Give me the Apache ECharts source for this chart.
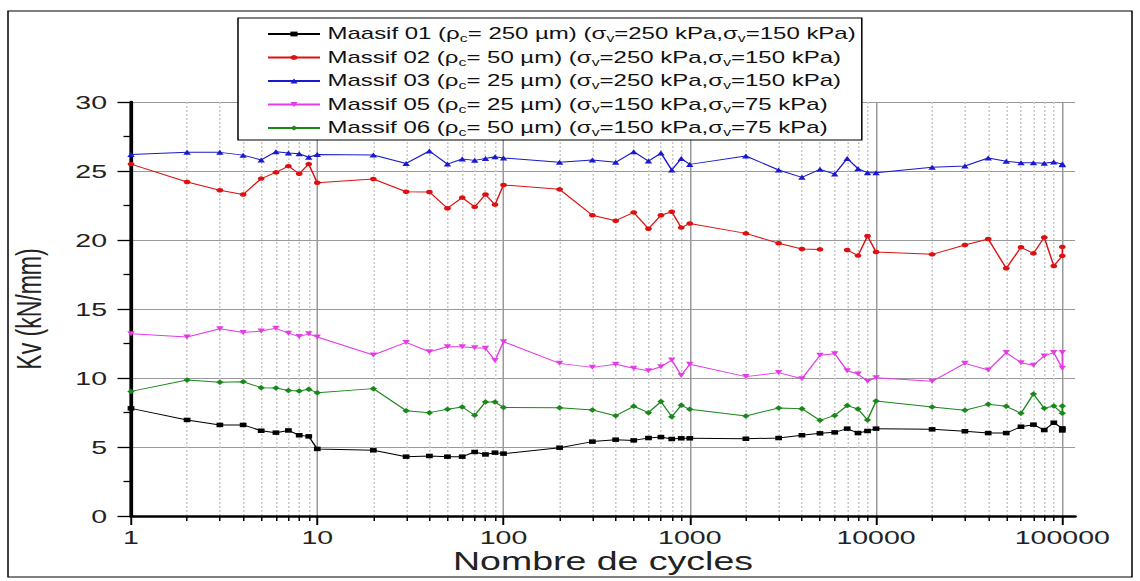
<!DOCTYPE html>
<html><head><meta charset="utf-8">
<script src="https://cdn.jsdelivr.net/npm/echarts@6/dist/echarts.min.js"></script>
<style>
html,body{margin:0;padding:0;background:#fff;overflow:hidden;}
#wrap{width:1140px;height:581px;overflow:hidden;position:relative;}
#chart{width:760px;height:581px;transform:scaleX(1.5);transform-origin:0 0;}
</style></head>
<body><div id="wrap"><div id="chart"></div></div>
<script>
// ---- data ----
const cycles = [1,2,3,4,5,6,7,8,9,10,
  20,30,40,50,60,70,80,90,100,
  200,300,400,500,600,700,800,900,1000,
  2000,3000,4000,5000,6000,7000,8000,9000,10000,
  20000,30000,40000,50000,60000,70000,80000,90000,100000,100000];

const massif01 = [7.8,6.96,6.6,6.6,6.18,6.04,6.2,5.85,5.77,4.86,
  4.76,4.3,4.35,4.3,4.3,4.64,4.46,4.59,4.52,
  4.95,5.39,5.53,5.48,5.65,5.72,5.58,5.63,5.63,
  5.6,5.65,5.85,5.99,6.06,6.33,6.01,6.16,6.33,
  6.28,6.14,6.01,6.01,6.47,6.62,6.23,6.76,6.35,6.2];

const massif02 = [25.5,24.2,23.6,23.3,24.45,24.9,25.35,24.8,25.5,24.15,
  24.42,23.5,23.48,22.3,23.07,22.4,23.3,22.56,23.99,
  23.67,21.79,21.4,22.0,20.82,21.79,22.05,20.9,21.2,
  20.48,19.76,19.35,19.32,null,19.28,18.87,20.29,19.13,
  18.96,19.64,20.07,17.95,19.47,19.03,20.19,18.12,18.85,19.5];

const massif03 = [26.2,26.35,26.35,26.15,25.8,26.4,26.3,26.25,26.0,26.2,
  26.16,25.55,26.45,25.5,25.87,25.77,25.9,26.04,25.94,
  25.63,25.8,25.63,26.4,25.72,26.3,25.07,25.9,25.48,
  26.09,25.07,24.54,25.12,24.78,25.9,25.17,24.88,24.88,
  25.27,25.36,25.94,25.7,25.6,25.6,25.56,25.65,25.5,25.45];

const massif05 = [13.2,12.97,13.57,13.3,13.4,13.6,13.25,13.0,13.2,12.97,
  11.67,12.58,11.9,12.27,12.27,12.2,12.15,11.26,12.63,
  11.06,10.77,10.99,10.7,10.53,10.82,11.3,10.19,10.99,
  10.1,10.39,9.95,11.64,11.76,10.53,10.29,9.76,10.02,
  9.76,11.06,10.58,11.84,11.11,10.92,11.6,11.84,10.7,11.84];

const massif06 = [9.03,9.85,9.7,9.73,9.3,9.27,9.1,9.06,9.18,8.94,
  9.23,7.63,7.49,7.73,7.9,7.3,8.26,8.26,7.87,
  7.85,7.68,7.27,7.95,7.49,8.29,7.2,8.02,7.73,
  7.25,7.83,7.78,6.93,7.29,8.0,7.75,6.96,8.33,
  7.9,7.66,8.09,7.95,7.44,8.84,7.8,7.97,7.44,7.97];

const seriesNames = [
  'Maasif 01 (ρc= 250 µm) (σv=250 kPa,σv=150 kPa)',
  'Massif 02 (ρc= 50 µm) (σv=250 kPa,σv=150 kPa)',
  'Massif 03 (ρc= 25 µm) (σv=250 kPa,σv=150 kPa)',
  'Massif 05 (ρc= 25 µm) (σv=150 kPa,σv=75 kPa)',
  'Massif 06 (ρc= 50 µm) (σv=150 kPa,σv=75 kPa)'
];
const legendRich = [
  'Maasif 01 (ρ{s|c}= 250 µm) (σ{s|v}=250 kPa,σ{s|v}=150 kPa)',
  'Massif 02 (ρ{s|c}= 50 µm) (σ{s|v}=250 kPa,σ{s|v}=150 kPa)',
  'Massif 03 (ρ{s|c}= 25 µm) (σ{s|v}=250 kPa,σ{s|v}=150 kPa)',
  'Massif 05 (ρ{s|c}= 25 µm) (σ{s|v}=150 kPa,σ{s|v}=75 kPa)',
  'Massif 06 (ρ{s|c}= 50 µm) (σ{s|v}=150 kPa,σ{s|v}=75 kPa)'
];

const xMajorTicks = [1,10,100,1000,10000,100000];
const xMinorTicks = [2,3,4,5,6,7,8,9,
  20,30,40,50,60,70,80,90,
  200,300,400,500,600,700,800,900,
  2000,3000,4000,5000,6000,7000,8000,9000,
  20000,30000,40000,50000,60000,70000,80000,90000];
const yMin = 0, yMax = 30, yStep = 5;
const xMin = 1, xMax = 117000;

// ---- chart ----
const S = 1.5; // horizontal stretch of the original picture
const FONT = '"Liberation Sans", Arial, sans-serif';
const colors = ['#000000','#dd1111','#1a1acc','#e53be5','#1b881b'];
const symbols = ['rect','circle','triangle','path://M0,0L10,0L5,9Z','diamond'];
const sizes = [[4.5,4.5],[4.5,4.5],[5,5],[5,5],[5,5.5]];
const values = [massif01, massif02, massif03, massif05, massif06];

const chart = echarts.init(document.getElementById('chart'), null, {renderer:'svg'});

const series = values.map((vals, k) => ({
  name: seriesNames[k],
  type: 'line',
  xAxisIndex: 0,
  yAxisIndex: 0,
  data: cycles.map((c, i) => [c, vals[i]]),
  symbol: symbols[k],
  symbolSize: sizes[k],
  showAllSymbol: true,
  connectNulls: false,
  lineStyle: {color: colors[k], width: 1},
  itemStyle: {color: colors[k]},
  emphasis: {disabled: true},
  z: 3 + k
}));

chart.setOption({
  animation: false,
  backgroundColor: '#fff',
  textStyle: {fontFamily: FONT},
  grid: {left: 131/S, right: 760 - 1075/S, top: 102, bottom: 65, outerBoundsMode: 'none'},
  graphic: [{
    type: 'rect', silent: true, z: 0,
    shape: {x: 8/S, y: 11, width: 1124/S, height: 566},
    style: {fill: 'none', stroke: '#000', lineWidth: 1}
  }],
  legend: {
    orient: 'vertical',
    left: 238/S, top: 18,
    padding: [6, 4, 2, 19],
    itemWidth: 52/S, itemHeight: 6, itemGap: 3.5,
    backgroundColor: '#fff',
    borderColor: '#000', borderWidth: 1,
    data: seriesNames,
    selectedMode: false,
    formatter: name => legendRich[seriesNames.indexOf(name)],
    textStyle: {
      fontFamily: FONT, fontSize: 16, lineHeight: 20, color: '#111',
      rich: {s: {fontFamily: FONT, fontSize: 10.5, lineHeight: 13, verticalAlign: 'bottom', color: '#111'}}
    }
  },
  xAxis: [{
    type: 'log', logBase: 10, min: xMin, max: xMax,
    name: 'Nombre de cycles', nameLocation: 'middle', nameGap: 32, nameMoveOverlap: false,
    nameTextStyle: {fontFamily: FONT, fontSize: 25, lineHeight: 27, color: '#222'},
    axisLine: {show: true, onZero: false, lineStyle: {color: '#000', width: 2.5}},
    axisTick: {show: true, customValues: xMajorTicks, length: 9, lineStyle: {color: '#000', width: 1.3}},
    minorTick: {show: false},
    axisLabel: {show: true, customValues: xMajorTicks, margin: 12, fontFamily: FONT, fontSize: 19, lineHeight: 19, color: '#222',
      formatter: v => String(Math.round(v))},
    splitLine: {show: true, lineStyle: {color: '#999', width: 1, type: 'solid'}}
  }, {
    type: 'log', logBase: 10, min: xMin, max: xMax, position: 'bottom',
    axisLine: {show: false},
    axisTick: {show: true, customValues: xMinorTicks, length: 5, lineStyle: {color: '#000', width: 1}},
    axisLabel: {show: false},
    splitLine: {show: true, lineStyle: {color: '#c8c8c8', width: 1, type: [2, 2]}}
  }],
  yAxis: [{
    type: 'value', min: yMin, max: yMax, interval: yStep,
    name: 'Kv (kN/mm)', nameLocation: 'middle', nameGap: 57, nameMoveOverlap: false,
    nameTextStyle: {fontFamily: FONT, fontSize: 23, color: '#222'},
    axisLine: {show: true, lineStyle: {color: '#000', width: 2.5}},
    axisTick: {show: true, length: 9, lineStyle: {color: '#000', width: 1.3}},
    minorTick: {show: true, splitNumber: 2, length: 5, lineStyle: {color: '#000', width: 1.3}},
    axisLabel: {margin: 16, fontFamily: FONT, fontSize: 19, color: '#222'},
    splitLine: {show: true, lineStyle: {color: '#999', width: 1}}
  }],
  series: series
});
</script>
</body></html>
